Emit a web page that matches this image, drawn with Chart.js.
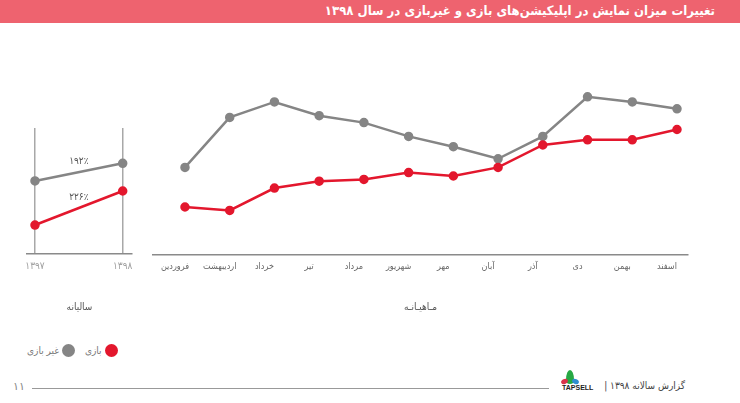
<!DOCTYPE html>
<html lang="fa">
<head>
<meta charset="utf-8">
<script src="https://cdn.jsdelivr.net/npm/chart.js@4.4.1/dist/chart.umd.min.js"></script>
<style>
    body { margin: 0; width: 740px; height: 403px; background: #fff; position: relative; overflow: hidden; font-family: "DejaVu Sans", sans-serif; }
    .title-bar { position: absolute; left: 0; top: 0; width: 740px; height: 23px; background: #ee636f; }
    .title-bar span { position: absolute; right: 25px; top: 3px; color: #fff; font-weight: bold; font-size: 13px; font-family: "DejaVu Sans Condensed", "DejaVu Sans", sans-serif; direction: rtl; white-space: nowrap; }
    #yearChart { position: absolute; left: 0; top: 100px; }
    #monthChart { position: absolute; left: 140px; top: 70px; }
    .legend { position: absolute; top: 344px; left: 27px; direction: rtl; font-size: 10px; color: #777; display: flex; gap: 10px; font-family: "DejaVu Sans Condensed", "DejaVu Sans", sans-serif; }
    .legend .item { display: flex; align-items: center; gap: 3px; }
    .legend .dot { width: 13px; height: 13px; border-radius: 50%; }
    .footer-line { position: absolute; left: 32px; top: 388px; width: 517px; height: 1px; background: #999; }
    .page-num { position: absolute; left: 13px; top: 380px; font-size: 11px; color: #888; }
    .logo { position: absolute; left: 560px; top: 370px; width: 40px; height: 24px; }
    .logo .leaf1 { position: absolute; left: 6px; top: 0; width: 8px; height: 14px; background: #27a844; border-radius: 50% 50% 50% 50% / 70% 70% 30% 30%; }
    .logo .leaf2 { position: absolute; left: 1px; top: 9px; width: 7px; height: 5px; background: #d9334a; border-radius: 50%; transform: rotate(-25deg); }
    .logo .leaf3 { position: absolute; left: 12px; top: 9px; width: 7px; height: 5px; background: #2f8fd0; border-radius: 50%; transform: rotate(25deg); }
    .logo .brand { position: absolute; left: 2px; top: 14px; font-size: 7px; font-weight: bold; color: #222; font-family: "Liberation Sans", sans-serif; }
    .footer-text { position: absolute; right: 55px; top: 380px; font-size: 10px; color: #444; direction: rtl; white-space: nowrap; font-family: "DejaVu Sans Condensed", "DejaVu Sans", sans-serif; }
</style>
</head>
<body>
<div class="title-bar"><span>تغییرات میزان نمایش در اپلیکیشن‌های بازی و غیربازی در سال ۱۳۹۸</span></div>

<canvas id="yearChart" width="150" height="220"></canvas>
<canvas id="monthChart" width="600" height="250"></canvas>

<div class="legend" id="legend"></div>

<div class="page-num">۱۱</div>
<div class="footer-line"></div>
<div class="logo"><div class="leaf1"></div><div class="leaf2"></div><div class="leaf3"></div><div class="brand">TAPSELL</div></div>
<div class="footer-text">گزارش سالانه ۱۳۹۸ |</div>

<script>
// Data
const seriesNames = ['بازی', 'غیر بازی'];
const seriesColors = ['#e3172d', '#858585'];

const years = ['۱۳۹۷', '۱۳۹۸'];
const yearGame = [23, 50];
const yearNonGame = [58, 72];
const growthLabels = ['۲۲۶٪', '۱۹۲٪'];

const months = ['فروردین', 'اردیبهشت', 'خرداد', 'تیر', 'مرداد', 'شهریور', 'مهر', 'آبان', 'آذر', 'دی', 'بهمن', 'اسفند'];
const monthGame = [28, 26, 39, 43, 44, 48, 46, 51, 64, 67, 67, 73];
const monthNonGame = [51, 80, 89, 81, 77, 69, 63, 56, 69, 92, 89, 85];

const persianFont = '"DejaVu Sans Condensed", "DejaVu Sans", sans-serif';

function toPoints(values) {
    return values.map((v, i) => ({ x: i, y: v }));
}

function makeDataset(i, values) {
    return {
        label: seriesNames[i],
        data: toPoints(values),
        borderColor: seriesColors[i],
        backgroundColor: seriesColors[i],
        borderWidth: 2.5,
        pointRadius: 3.5,
        pointHoverRadius: 3.5,
        tension: 0
    };
}

// growth labels in the middle of the yearly lines
const growthLabelPlugin = {
    id: 'growthLabels',
    afterDatasetsDraw(chart) {
        const { ctx, scales } = chart;
        ctx.save();
        ctx.font = '10px ' + persianFont;
        ctx.fillStyle = '#555';
        ctx.textAlign = 'center';
        ctx.textBaseline = 'middle';
        chart.data.datasets.forEach((ds, i) => {
            const midX = scales.x.getPixelForValue(0.5);
            const midY = scales.y.getPixelForValue((ds.data[0].y + ds.data[1].y) / 2);
            ctx.fillText(growthLabels[i], midX, midY - 11);
        });
        ctx.restore();
    }
};

function xAxis(labels, min, max, gridOn, titleText, labelOffset) {
    return {
        type: 'linear',
        min: min,
        max: max,
        afterBuildTicks: (scale) => {
            scale.ticks = labels.map((_, i) => ({ value: i }));
        },
        grid: { display: gridOn, color: '#a8a8a8', lineWidth: 1.5, drawTicks: false },
        border: { display: true, color: '#8a8a8a', width: 1.5 },
        ticks: {
            autoSkip: false,
            maxRotation: 0,
            padding: 6,
            labelOffset: labelOffset,
            color: gridOn ? '#a0a0a0' : '#666',
            font: { family: persianFont, size: gridOn ? 10 : 9 },
            callback: (value) => labels[value]
        },
        title: {
            display: true,
            text: titleText,
            color: '#555',
            font: { family: persianFont, size: 10 },
            padding: { top: 23, bottom: 0 }
        }
    };
}

const commonOptions = {
    responsive: false,
    animation: false,
    plugins: { legend: { display: false }, tooltip: { enabled: false } }
};

// Yearly chart
new Chart(document.getElementById('yearChart'), {
    type: 'line',
    data: { datasets: [makeDataset(0, yearGame), makeDataset(1, yearNonGame)] },
    options: {
        ...commonOptions,
        layout: { padding: { left: 27, right: 18, top: 28, bottom: 7 } },
        scales: {
            x: xAxis(years, -0.091, 1.106, true, 'سالیانه', 0),
            y: { display: false, min: 0, max: 100 }
        }
    },
    plugins: [growthLabelPlugin]
});

// Monthly chart
new Chart(document.getElementById('monthChart'), {
    type: 'line',
    data: { datasets: [makeDataset(0, monthGame), makeDataset(1, monthNonGame)] },
    options: {
        ...commonOptions,
        layout: { padding: { left: 13, right: 52, top: 13, bottom: 7 } },
        scales: {
            x: xAxis(months, -0.715, 11.246, false, 'مـاهیـانـه', -10),
            y: { display: false, min: 0, max: 100 }
        }
    }
});

// Legend
const legendEl = document.getElementById('legend');
seriesNames.forEach((name, i) => {
    const item = document.createElement('div');
    item.className = 'item';
    item.innerHTML = `<span class="dot" style="background:${seriesColors[i]}"></span><span>${name}</span>`;
    legendEl.appendChild(item);
});
</script>
</body>
</html>
